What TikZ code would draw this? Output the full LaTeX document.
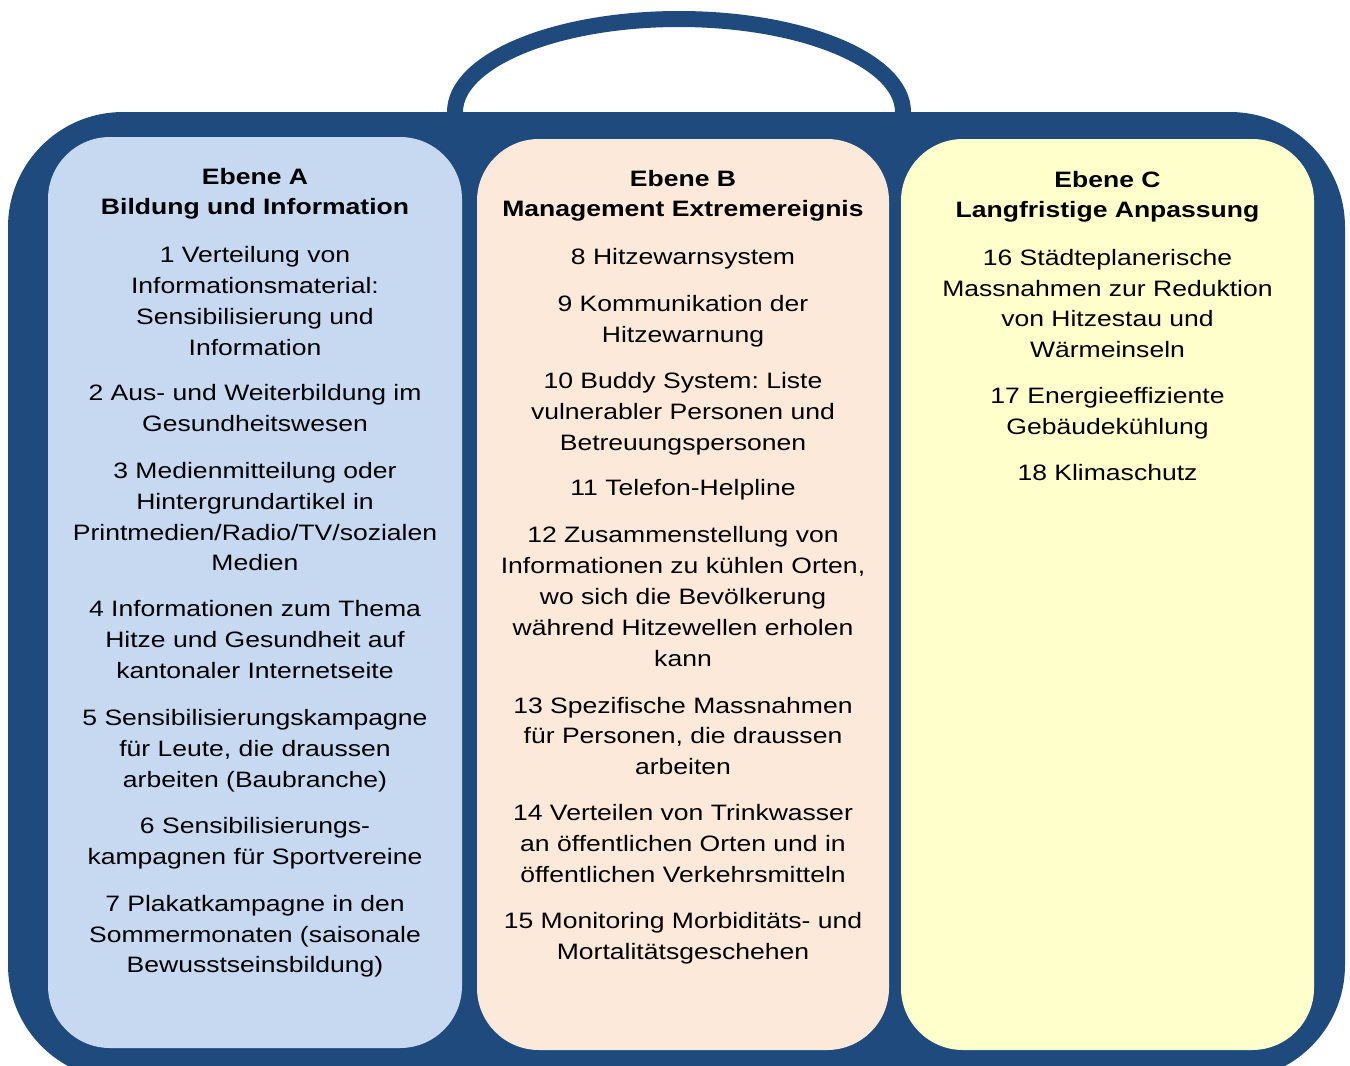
\documentclass[tikz,border=0pt]{standalone}
\usepackage{fontspec}
\setmainfont{Liberation Sans}[FakeStretch=1.19]
\frenchspacing
\newcommand\itemfont{\fontsize{22.3pt}{30.8pt}\selectfont\frenchspacing}
\newcommand\headfont{\fontsize{22.3pt}{30.4pt}\selectfont\bfseries\frenchspacing}
\newcommand\fst{\rule{0pt}{22pt}}
\definecolor{frameblue}{HTML}{1F4A7D}
\definecolor{panelA}{HTML}{C6D9F1}
\definecolor{panelB}{HTML}{FDE9D9}
\definecolor{panelC}{HTML}{FFFFCC}
\tikzset{
  itemtext/.style={anchor=north, align=center, inner sep=0pt, font=\itemfont, text=black},
  headtext/.style={itemtext, font=\headfont},
  panelbox/.style={rounded corners=62pt},
}
\begin{document}
\begin{tikzpicture}[x=1pt,y=-1pt]
\useasboundingbox (0,0) rectangle (1350,1066);
\clip (0,0) rectangle (1350,1066);
% handle
\draw[frameblue, line width=16pt] (679,112) ellipse [x radius=224, y radius=93];
% body
\fill[frameblue, rounded corners=115pt] (8,112) rectangle (1345,1080);
% panels
\fill[panelA, panelbox] (48,137) rectangle (462,1048);
\fill[panelB, panelbox] (477,139) rectangle (889,1050);
\fill[panelC, panelbox] (901,139) rectangle (1314,1050);

% Panel A
\node[headtext] (ha) at (255,162.3) {\fst Ebene A\\Bildung und Information};
\node[itemtext] (a1) at (255,240.7) {\fst 1 Verteilung von\\Informationsmaterial:\\Sensibilisierung und\\Information};
\node[itemtext] (a2) at (255,378.7) {\fst 2 Aus- und Weiterbildung im\\Gesundheitswesen};
\node[itemtext] (a3) at (255,456.3) {\fst 3 Medienmitteilung oder\\Hintergrundartikel in\\Printmedien/Radio/TV/sozialen\\Medien};
\node[itemtext] (a4) at (255,594.6) {\fst 4 Informationen zum Thema\\Hitze und Gesundheit auf\\kantonaler Internetseite};
\node[itemtext] (a5) at (255,703.2) {\fst 5 Sensibilisierungskampagne\\für Leute, die draussen\\arbeiten (Baubranche)};
\node[itemtext] (a6) at (255,811.6) {\fst 6 Sensibilisierungs-\\kampagnen für Sportvereine};
\node[itemtext] (a7) at (255,889) {\fst 7 Plakatkampagne in den\\Sommermonaten (saisonale\\Bewusstseinsbildung)};

% Panel B
\node[headtext] (hb) at (683,164) {\fst Ebene B\\Management Extremereignis};
\node[itemtext] (b8) at (683,242.3) {\fst 8 Hitzewarnsystem};
\node[itemtext] (b9) at (683,289) {\fst 9 Kommunikation der\\Hitzewarnung};
\node[itemtext] (b10) at (683,366.3) {\fst 10 Buddy System: Liste\\vulnerabler Personen und\\Betreuungspersonen};
\node[itemtext] (b11) at (683,473.7) {\fst 11 Telefon-Helpline};
\node[itemtext] (b12) at (683,520.7) {\fst 12 Zusammenstellung von\\Informationen zu kühlen Orten,\\wo sich die Bevölkerung\\während Hitzewellen erholen\\kann};
\node[itemtext] (b13) at (683,690.8) {\fst 13 Spezifische Massnahmen\\für Personen, die draussen\\arbeiten};
\node[itemtext] (b14) at (683,798.3) {\fst 14 Verteilen von Trinkwasser\\an öffentlichen Orten und in\\öffentlichen Verkehrsmitteln};
\node[itemtext] (b15) at (683,906.5) {\fst 15 Monitoring Morbiditäts- und\\Mortalitätsgeschehen};

% Panel C
\node[headtext] (hc) at (1107.5,165) {\fst Ebene C\\Langfristige Anpassung};
\node[itemtext] (c16) at (1107.5,243) {\fst 16 Städteplanerische\\Massnahmen zur Reduktion\\von Hitzestau und\\Wärmeinseln};
\node[itemtext] (c17) at (1107.5,381.5) {\fst 17 Energieeffiziente\\Gebäudekühlung};
\node[itemtext] (c18) at (1107.5,458.5) {\fst 18 Klimaschutz};
\end{tikzpicture}
\end{document}
